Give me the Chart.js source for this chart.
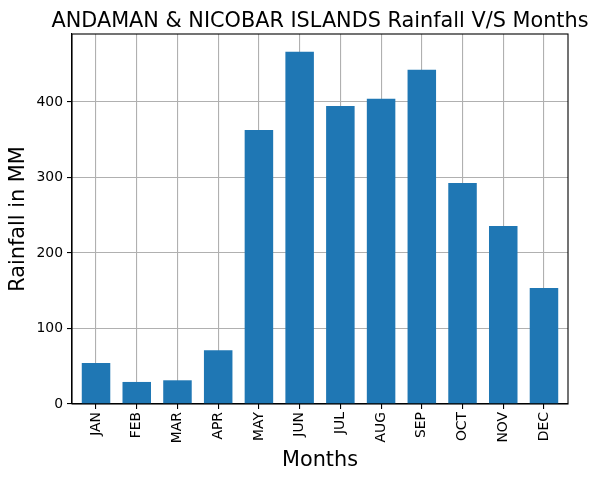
<!DOCTYPE html>
<html>
<head>
<meta charset="utf-8">
<script src="https://cdn.jsdelivr.net/npm/chart.js@4/dist/chart.umd.min.js"></script>
<style>
    html, body { margin: 0; padding: 0; background: #fff; }
    #wrap { width: 598px; height: 480px; }
</style>
</head>
<body>
<div id="wrap"><canvas id="chart" width="598" height="480"></canvas></div>
<script>
const months = ["JAN", "FEB", "MAR", "APR", "MAY", "JUN", "JUL", "AUG", "SEP", "OCT", "NOV", "DEC"];
const rainfall = [54.4, 29.2, 31.4, 71.2, 363, 466.4, 394.8, 404.1, 442.6, 292.7, 235.7, 153.6];
const yTicks = [0, 100, 200, 300, 400];
const titleText = "ANDAMAN & NICOBAR ISLANDS Rainfall V/S Months";

const FONT = "'DejaVu Sans', sans-serif";

// box around the plot area like matplotlib spines, plus the title centred on it
const frame = {
    id: "frame",
    afterDraw(chart) {
        const { ctx, chartArea: a } = chart;
        ctx.save();
        ctx.strokeStyle = "#000";
        ctx.lineWidth = 1.1;
        ctx.strokeRect(a.left, a.top, a.right - a.left, a.bottom - a.top);
        ctx.fillStyle = "#000";
        ctx.font = `20.8px ${FONT}`;
        ctx.textAlign = "center";
        ctx.textBaseline = "alphabetic";
        ctx.fillText(titleText, (a.left + a.right) / 2, a.top - 7);
        ctx.restore();
    },
};

new Chart(document.getElementById("chart"), {
    type: "bar",
    data: {
        datasets: [
            {
                data: rainfall.map((v, i) => ({ x: i, y: v })),
                backgroundColor: "#1f77b4",
                barPercentage: 0.7,
                categoryPercentage: 1,
            },
        ],
    },
    options: {
        responsive: false,
        animation: false,
        layout: { padding: { left: 0, right: 30, top: 34, bottom: 0 } },
        plugins: {
            legend: { display: false },
            tooltip: { enabled: false },
            title: { display: false },
        },
        scales: {
            x: {
                type: "linear",
                min: -0.59,
                max: 11.59,
                offset: false,
                z: 1,
                afterFit: (s) => { s.height = 76; },
                afterBuildTicks: (s) => { s.ticks = months.map((m, i) => ({ value: i })); },
                ticks: {
                    autoSkip: false,
                    minRotation: 90,
                    maxRotation: 90,
                    padding: 3,
                    color: "#000",
                    font: { family: FONT, size: 13.9 },
                    callback: (v) => months[v] ?? "",
                },
                grid: { offset: false, color: "#b0b0b0", lineWidth: 1.1, tickColor: "#000", tickLength: 5 },
                border: { color: "#000", width: 1.1 },
                title: {
                    display: true,
                    text: "Months",
                    color: "#000",
                    font: { family: FONT, size: 20.8 },
                    padding: { top: 0, bottom: 7 },
                },
            },
            y: {
                min: 0,
                max: 490,
                z: 1,
                afterFit: (s) => { s.width = 72; },
                afterBuildTicks: (s) => { s.ticks = yTicks.map((v) => ({ value: v })); },
                ticks: {
                    padding: 4,
                    color: "#000",
                    font: { family: FONT, size: 13.9 },
                },
                grid: { color: "#b0b0b0", lineWidth: 1.1, tickColor: "#000", tickLength: 5 },
                border: { color: "#000", width: 1.1 },
                title: {
                    display: true,
                    text: "Rainfall in MM",
                    color: "#000",
                    font: { family: FONT, size: 20.8 },
                    padding: { top: 6, bottom: 4 },
                },
            },
        },
    },
    plugins: [frame],
});
</script>
</body>
</html>
